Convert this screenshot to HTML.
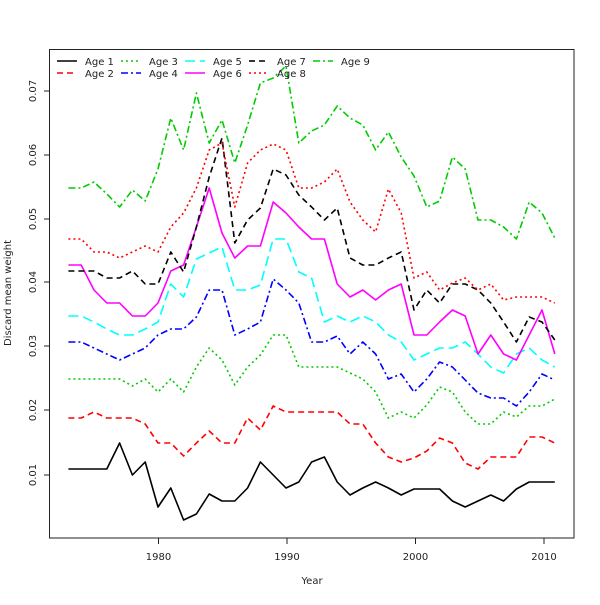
<!DOCTYPE html>
<html><head><meta charset="utf-8"><style>
html,body{margin:0;padding:0;background:#fff;}
svg text{font-family:"DejaVu Sans","Liberation Sans",sans-serif;font-size:10px;fill:#222;}
</style></head><body>
<svg width="600" height="600" viewBox="0 0 600 600" xmlns="http://www.w3.org/2000/svg">
<rect x="0" y="0" width="600" height="600" fill="#fff"/>
<rect x="49.5" y="49.5" width="524.5" height="488.5" fill="none" stroke="#222" stroke-width="1"/>
<g stroke="#222" stroke-width="1">
<line x1="44" y1="475" x2="49" y2="475"/><line x1="44" y1="410" x2="49" y2="410"/><line x1="44" y1="346" x2="49" y2="346"/><line x1="44" y1="282" x2="49" y2="282"/><line x1="44" y1="219" x2="49" y2="219"/><line x1="44" y1="155" x2="49" y2="155"/><line x1="44" y1="91" x2="49" y2="91"/>
<line x1="158.5" y1="538" x2="158.5" y2="544"/><line x1="287" y1="538" x2="287" y2="544"/><line x1="415.5" y1="538" x2="415.5" y2="544"/><line x1="544" y1="538" x2="544" y2="544"/>
</g>
<g text-anchor="middle">
<text transform="translate(36,475) rotate(-90)">0.01</text>
<text transform="translate(36,410) rotate(-90)">0.02</text>
<text transform="translate(36,346) rotate(-90)">0.03</text>
<text transform="translate(36,282) rotate(-90)">0.04</text>
<text transform="translate(36,219) rotate(-90)">0.05</text>
<text transform="translate(36,155) rotate(-90)">0.06</text>
<text transform="translate(36,91) rotate(-90)">0.07</text>
<text x="158.5" y="560">1980</text><text x="287" y="560">1990</text><text x="415.5" y="560">2000</text><text x="544" y="560">2010</text>
<text x="312" y="584">Year</text>
<text transform="translate(11,293) rotate(-90)">Discard mean weight</text>
</g>
<g fill="none" stroke-width="1.6" stroke-linejoin="round">
<!-- Age 1 -->
<polyline stroke="#000" points="68.4,469 81.2,469 94,469 106.8,469 119.6,443 132.4,475 145.2,462 158,507 170.8,488 183.6,520 196.4,514 209.2,494 222,501 234.8,501 247.6,488 260.4,462 273.2,475 286,488 298.8,482 311.6,462 324.4,457 337.2,482 350,495 362.8,488 375.6,482 388.4,488 401.2,495 414,489 426.8,489 439.6,489 452.4,501 465.2,507 478,501 490.8,495 503.6,501 516.4,489 529.2,482 542,482 554.8,482"/>
<!-- Age 2 -->
<polyline stroke="#f00" stroke-dasharray="6,4" points="68.4,418 81.2,418 94,412 106.8,418 119.6,418 132.4,418 145.2,424 158,443 170.8,443 183.6,456 196.4,443 209.2,431 222,443 234.8,443 247.6,418 260.4,430 273.2,406 286,412 298.8,412 311.6,412 324.4,412 337.2,412 350,424 362.8,424 375.6,443 388.4,457 401.2,462 414,458 426.8,451 439.6,438 452.4,443 465.2,463 478,469 490.8,457 503.6,457 516.4,457 529.2,437 542,437 554.8,443"/>
<!-- Age 3 -->
<polyline stroke="#0c0" stroke-dasharray="2,3" points="68.4,379 81.2,379 94,379 106.8,379 119.6,379 132.4,386 145.2,379 158,392 170.8,379 183.6,392 196.4,367 209.2,348 222,360 234.8,385 247.6,367 260.4,355 273.2,335 286,335 298.8,367 311.6,367 324.4,367 337.2,367 350,373 362.8,379 375.6,392 388.4,418 401.2,412 414,418 426.8,405 439.6,387 452.4,392 465.2,412 478,424 490.8,424 503.6,412 516.4,417 529.2,406 542,406 554.8,399"/>
<!-- Age 4 -->
<polyline stroke="#00f" stroke-dasharray="7,3,2,3" points="68.4,342 81.2,342 94,348 106.8,354 119.6,360 132.4,354 145.2,348 158,335 170.8,329 183.6,329 196.4,317 209.2,290 222,290 234.8,335 247.6,329 260.4,322 273.2,279 286,290 298.8,303 311.6,342 324.4,342 337.2,336 350,354 362.8,342 375.6,354 388.4,379 401.2,374 414,392 426.8,379 439.6,362 452.4,367 465.2,380 478,393 490.8,398 503.6,398 516.4,406 529.2,392 542,374 554.8,380"/>
<!-- Age 5 -->
<polyline stroke="#0ff" stroke-dasharray="10,5" points="68.4,316 81.2,316 94,322 106.8,329 119.6,335 132.4,335 145.2,329 158,322 170.8,284 183.6,297 196.4,259 209.2,253 222,247 234.8,290 247.6,290 260.4,285 273.2,239 286,239 298.8,272 311.6,278 324.4,322 337.2,316 350,322 362.8,316 375.6,322 388.4,335 401.2,342 414,360 426.8,354 439.6,348 452.4,348 465.2,342 478,354 490.8,367 503.6,373 516.4,354 529.2,348 542,360 554.8,367"/>
<!-- Age 6 -->
<polyline stroke="#f0f" points="68.4,265 81.2,265 94,290 106.8,303 119.6,303 132.4,316 145.2,316 158,303 170.8,271 183.6,265 196.4,227 209.2,188 222,233 234.8,258 247.6,246 260.4,246 273.2,202 286,213 298.8,227 311.6,239 324.4,239 337.2,284 350,297 362.8,290 375.6,300 388.4,290 401.2,284 414,335 426.8,335 439.6,322 452.4,310 465.2,316 478,354 490.8,335 503.6,354 516.4,360 529.2,335 542,310 554.8,354"/>
<!-- Age 7 -->
<polyline stroke="#000" stroke-dasharray="6,4" points="68.4,271 81.2,271 94,271 106.8,278 119.6,278 132.4,271 145.2,284 158,284 170.8,252 183.6,272 196.4,227 209.2,177 222,138 234.8,243 247.6,220 260.4,208 273.2,169 286,175 298.8,195 311.6,207 324.4,220 337.2,208 350,258 362.8,265 375.6,265 388.4,258 401.2,252 414,310 426.8,290 439.6,303 452.4,284 465.2,284 478,290 490.8,303 503.6,322 516.4,342 529.2,317 542,322 554.8,340"/>
<!-- Age 8 -->
<polyline stroke="#f00" stroke-dasharray="2,3" points="68.4,239 81.2,239 94,252 106.8,252 119.6,258 132.4,252 145.2,246 158,252 170.8,227 183.6,213 196.4,188 209.2,150 222,143 234.8,207 247.6,163 260.4,150 273.2,144 286,150 298.8,188 311.6,188 324.4,182 337.2,169 350,202 362.8,220 375.6,232 388.4,189 401.2,213 414,278 426.8,272 439.6,290 452.4,283 465.2,278 478,290 490.8,284 503.6,300 516.4,297 529.2,297 542,297 554.8,303"/>
<!-- Age 9 -->
<polyline stroke="#0c0" stroke-dasharray="7,3,2,3" points="68.4,188 81.2,188 94,182 106.8,194 119.6,207 132.4,190 145.2,201 158,169 170.8,118 183.6,150 196.4,93 209.2,143 222,120 234.8,163 247.6,125 260.4,83 273.2,78 286,66 298.8,143 311.6,131 324.4,125 337.2,106 350,118 362.8,125 375.6,150 388.4,132 401.2,157 414,176 426.8,207 439.6,201 452.4,157 465.2,169 478,220 490.8,220 503.6,227 516.4,239 529.2,202 542,213 554.8,238"/>
</g>
<!-- Legend -->
<g fill="none" stroke-width="1.6">
<line x1="57" y1="61" x2="77" y2="61" stroke="#000"/>
<line x1="57" y1="73" x2="77" y2="73" stroke="#f00" stroke-dasharray="6,4"/>
<line x1="121" y1="61" x2="141" y2="61" stroke="#0c0" stroke-dasharray="2,3"/>
<line x1="121" y1="73" x2="141" y2="73" stroke="#00f" stroke-dasharray="7,3,2,3"/>
<line x1="185" y1="61" x2="205" y2="61" stroke="#0ff" stroke-dasharray="10,5"/>
<line x1="185" y1="73" x2="205" y2="73" stroke="#f0f"/>
<line x1="249" y1="61" x2="269" y2="61" stroke="#000" stroke-dasharray="6,4"/>
<line x1="249" y1="73" x2="269" y2="73" stroke="#f00" stroke-dasharray="2,3"/>
<line x1="313" y1="61" x2="333" y2="61" stroke="#0c0" stroke-dasharray="7,3,2,3"/>
</g>
<g>
<text x="85" y="65">Age 1</text><text x="85" y="77">Age 2</text>
<text x="149" y="65">Age 3</text><text x="149" y="77">Age 4</text>
<text x="213" y="65">Age 5</text><text x="213" y="77">Age 6</text>
<text x="277" y="65">Age 7</text><text x="277" y="77">Age 8</text>
<text x="341" y="65">Age 9</text>
</g>
</svg>
</body></html>
